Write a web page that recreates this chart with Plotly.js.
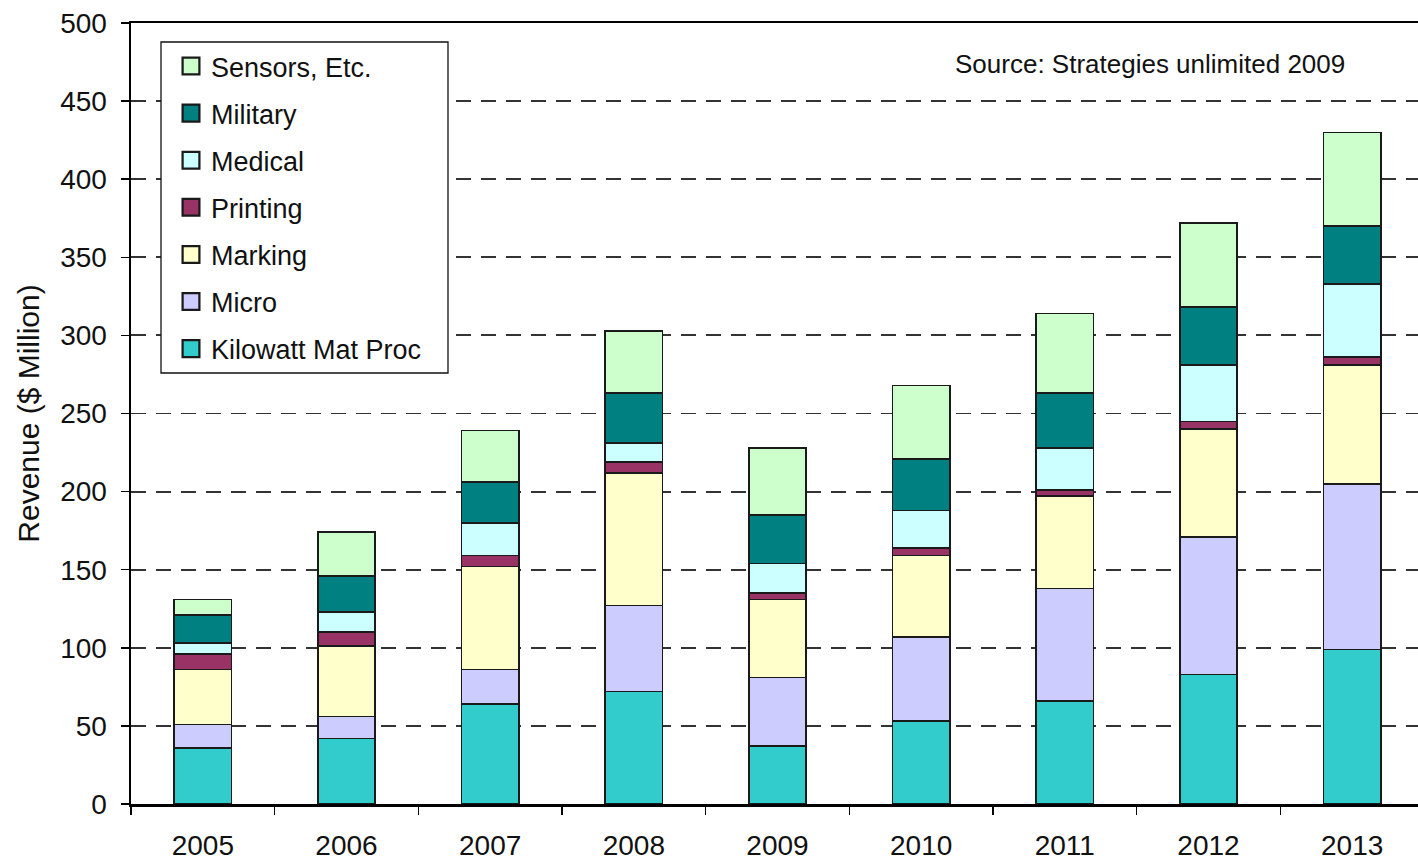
<!DOCTYPE html>
<html>
<head>
<meta charset="utf-8">
<script src="https://cdn.plot.ly/plotly-3.0.1.min.js"></script>
<style>
  html, body { margin: 0; padding: 0; overflow: hidden; background: #fff; }
  #chart { width: 1430px; height: 861px; }
  .legendpoints path { transform: translate(30px, 0px) scale(1.4); }
</style>
</head>
<body>
<div id="chart"></div>
<script>
// ---- Data ----
const years = ["2005", "2006", "2007", "2008", "2009", "2010", "2011", "2012", "2013"];

const kilowattMatProc = [36, 42, 64, 72, 37, 53, 66, 83, 99];
const micro           = [15, 14, 22, 55, 44, 54, 72, 88, 106];
const marking         = [35, 45, 66, 85, 50, 52, 59, 69, 76];
const printing        = [10, 9, 7, 7, 4, 5, 4, 5, 5];
const medical         = [7, 13, 21, 12, 19, 24, 27, 36, 47];
const military        = [18, 23, 26, 32, 31, 33, 35, 37, 37];
const sensorsEtc      = [10, 28, 33, 40, 43, 47, 51, 54, 60];

const seriesNames  = ["Kilowatt Mat Proc", "Micro", "Marking", "Printing", "Medical", "Military", "Sensors, Etc."];
const seriesValues = [kilowattMatProc, micro, marking, printing, medical, military, sensorsEtc];
const seriesColors = ["#33CCCC", "#CCCCFF", "#FFFFCC", "#993366", "#CCFFFF", "#008080", "#CCFFCC"];

const yTitle = "Revenue ($ Million)";
const sourceNote = "Source: Strategies unlimited 2009";

// ---- Traces ----
const traces = seriesNames.map((name, i) => ({
  type: "bar",
  name: name,
  x: years,
  y: seriesValues[i],
  legendgroup: "g" + i,
  legendrank: 100 - i,
  marker: { color: seriesColors[i], line: { color: "#1a1a1a", width: 1.6 } },
  hoverinfo: "x+y+name"
}));

const FONT = "Liberation Sans, Arial, sans-serif";

// plot-area pixel geometry helpers (for the legend frame)
const PL = 131, PT = 23, PW = 1293, PH = 781;
const px = v => (v - PL) / PW;
const py = v => 1 - (v - PT) / PH;

const layout = {
  width: 1430,
  height: 861,
  margin: { l: PL, r: 6, t: PT, b: 57, pad: 0 },
  paper_bgcolor: "#ffffff",
  plot_bgcolor: "#ffffff",
  barmode: "stack",
  bargap: 0.6,
  font: { family: FONT, size: 27, color: "#111" },
  showlegend: true,
  legend: {
    x: 0.0232, y: 0.9757, xanchor: "left", yanchor: "top",
    bgcolor: "rgba(0,0,0,0)",
    borderwidth: 0,
    traceorder: "grouped",
    tracegroupgap: 9,
    itemwidth: 40,
    font: { family: FONT, size: 27, color: "#111" }
  },
  shapes: [{
    type: "rect", xref: "paper", yref: "paper", layer: "above",
    x0: px(161), x1: px(448), y0: py(373), y1: py(42),
    fillcolor: "#ffffff", line: { color: "#111", width: 1.3 }
  }],
  xaxis: {
    type: "category",
    showgrid: false,
    showline: true, linecolor: "#000", linewidth: 2.5, mirror: true,
    ticks: "outside", tickson: "boundaries", ticklen: 8, tickwidth: 1.5, tickcolor: "#000",
    tickfont: { family: FONT, size: 28, color: "#111" },
    ticklabelstandoff: 15,
    fixedrange: true
  },
  yaxis: {
    range: [0, 500],
    dtick: 50,
    tick0: 0,
    showgrid: true, gridcolor: "#333", gridwidth: 1.8, griddash: "15px,10px",
    zeroline: false,
    showline: true, linecolor: "#000", linewidth: 2.5, mirror: true,
    ticks: "outside", ticklen: 8, tickwidth: 1.5, tickcolor: "#000",
    tickfont: { family: FONT, size: 28, color: "#111" },
    ticklabelstandoff: 8,
    title: { text: yTitle, font: { family: FONT, size: 30, color: "#111" }, standoff: 12 },
    fixedrange: true
  },
  annotations: [{
    xref: "paper", yref: "paper",
    x: px(1347), y: py(64),
    xanchor: "right", yanchor: "middle",
    text: sourceNote, showarrow: false,
    font: { family: FONT, size: 26, color: "#111" }
  }]
};

Plotly.newPlot("chart", traces, layout, { displayModeBar: false, staticPlot: true });
</script>
</body>
</html>
